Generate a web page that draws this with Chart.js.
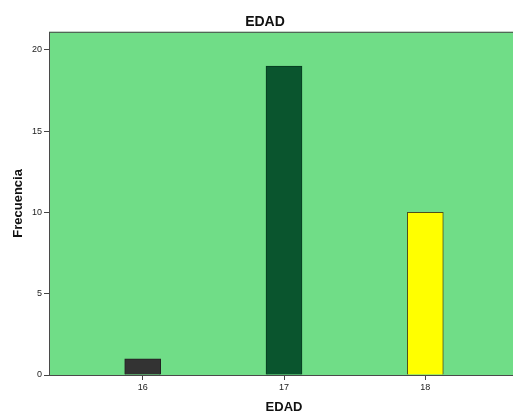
<!DOCTYPE html>
<html>
<head>
<meta charset="utf-8">
<script src="https://cdn.jsdelivr.net/npm/chart.js@4/dist/chart.umd.min.js"></script>
<style>
  html, body { margin: 0; padding: 0; background: #fff; overflow: hidden; }
  #wrap { width: 513px; height: 412px; overflow: hidden; }
</style>
</head>
<body>
<div id="wrap"><canvas id="edadChart" width="527" height="412"></canvas></div>
<script>
// valores
const edades = [16, 17, 18];
const frecuencias = [1, 19, 10];
const colores = ['#333333', '#0a552e', '#ffff00'];
const bordes = ['#222222', '#063a1f', '#4f4f1a'];
const yTicks = [0, 5, 10, 15, 20];

const fondoVerde = '#70dd87';

// relleno del area del grafico y marco
const plotArea = {
    id: 'plotArea',
    beforeDatasetsDraw(chart) {
        const a = chart.chartArea;
        const ctx = chart.ctx;
        ctx.save();
        ctx.fillStyle = fondoVerde;
        ctx.fillRect(a.left, a.top, a.right - a.left, a.bottom - a.top);
        ctx.restore();
    },
    afterDatasetsDraw(chart) {
        const a = chart.chartArea;
        const ctx = chart.ctx;
        ctx.save();
        ctx.strokeStyle = '#4a4a4a';
        ctx.lineWidth = 1;
        ctx.strokeRect(a.left + 0.5, a.top + 0.5, a.right - a.left, a.bottom - a.top);
        ctx.restore();
    }
};

const ctx = document.getElementById('edadChart').getContext('2d');
const edadChart = new Chart(ctx, {
    type: 'bar',
    data: {
        datasets: [{
            label: 'EDAD',
            data: edades.map((e, i) => ({ x: e, y: frecuencias[i] })),
            backgroundColor: colores,
            borderColor: bordes,
            borderWidth: 1,
            barThickness: 36
        }]
    },
    plugins: [plotArea],
    options: {
        responsive: false,
        animation: false,
        layout: { padding: { left: 11, right: 8, top: 0, bottom: 0 } },
        plugins: {
            legend: { display: false },
            tooltip: { enabled: false },
            title: {
                display: true,
                text: 'EDAD',
                color: '#111',
                font: { family: 'Liberation Sans', size: 14, weight: 'bold' },
                padding: { top: 14, bottom: 1 }
            }
        },
        scales: {
            x: {
                type: 'linear',
                min: 15.337,
                max: 18.663,
                offset: false,
                afterBuildTicks: axis => { axis.ticks = edades.map(v => ({ value: v })); },
                afterFit: scale => { scale.height = 37; },
                grid: { offset: false, drawOnChartArea: false, drawTicks: true, tickLength: 5, color: '#444' },
                border: { display: false },
                ticks: {
                    color: '#222',
                    padding: 2,
                    font: { family: 'Liberation Sans', size: 9 }
                },
                title: {
                    display: true,
                    text: 'EDAD',
                    color: '#111',
                    font: { family: 'Liberation Sans', size: 13, weight: 'bold' },
                    padding: { top: 0, bottom: -3 }
                }
            },
            y: {
                min: 0,
                max: 21.1,
                afterBuildTicks: axis => { axis.ticks = yTicks.map(v => ({ value: v })); },
                afterFit: scale => { scale.width = 38; },
                grid: { drawOnChartArea: false, drawTicks: true, tickLength: 5, color: '#444' },
                border: { display: false },
                ticks: {
                    color: '#222',
                    padding: 2,
                    font: { family: 'Liberation Sans', size: 9 }
                },
                title: {
                    display: true,
                    text: 'Frecuencia',
                    color: '#111',
                    font: { family: 'Liberation Sans', size: 13, weight: 'bold' },
                    padding: { top: 0, bottom: 0 }
                }
            }
        }
    }
});
</script>
</body>
</html>
